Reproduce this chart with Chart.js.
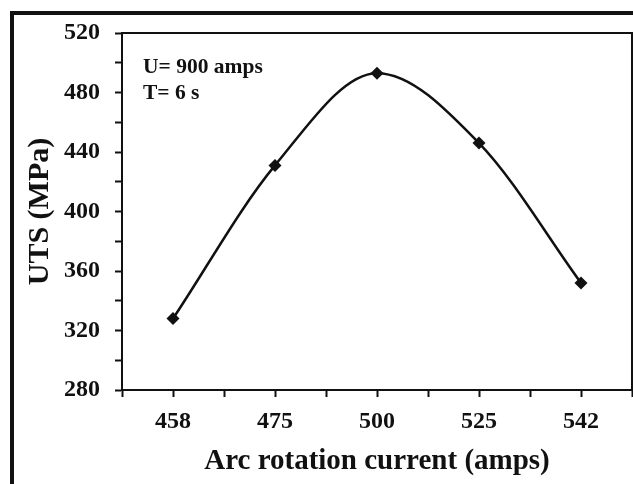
<!DOCTYPE html>
<html>
<head>
<meta charset="utf-8">
<script src="https://cdn.jsdelivr.net/npm/chart.js@4"></script>
<style>
  html, body { margin: 0; padding: 0; background: #fff; }
  #wrap { width: 633px; height: 484px; }
</style>
</head>
<body>
<div id="wrap"><canvas id="chart" width="633" height="484"></canvas></div>
<script>
// Data
const currents = ['458', '475', '500', '525', '542'];
const uts = [328, 431, 493, 446, 352];
const yTicks = [280, 320, 360, 400, 440, 480, 520];
const notes = ['U= 900 amps', 'T= 6 s'];

const serif = "'Liberation Serif', 'Times New Roman', serif";
const ink = '#111';

// outer frame (top + left edge), box round the plot area, and the note
const framePlugin = {
    id: 'frame',
    afterDraw(chart) {
        const { ctx, chartArea: a } = chart;
        ctx.save();
        ctx.strokeStyle = ink;
        ctx.lineWidth = 4;
        ctx.beginPath();
        ctx.moveTo(10, 13);
        ctx.lineTo(633, 13);
        ctx.moveTo(12, 11);
        ctx.lineTo(12, 484);
        ctx.stroke();

        ctx.lineWidth = 2;
        ctx.strokeRect(a.left, a.top, a.right - a.left, a.bottom - a.top);

        ctx.fillStyle = ink;
        ctx.font = `bold 21.5px ${serif}`;
        ctx.textBaseline = 'middle';
        ctx.fillText(notes[0], 143, 67);
        ctx.fillText(notes[1], 143, 93);
        ctx.restore();
    }
};

new Chart(document.getElementById('chart'), {
    type: 'line',
    data: {
        datasets: [{
            data: uts.map((v, i) => ({ x: i, y: v })),
            borderColor: ink,
            borderWidth: 2.5,
            backgroundColor: ink,
            pointStyle: 'rectRot',
            pointRadius: 6.5,
            pointBorderWidth: 0,
            cubicInterpolationMode: 'monotone',
            clip: false,
        }]
    },
    options: {
        responsive: false,
        animation: false,
        layout: { autoPadding: false, padding: { top: 33, right: 1, left: 0, bottom: 0 } },
        plugins: { legend: { display: false }, tooltip: { enabled: false } },
        scales: {
            x: {
                type: 'linear',
                min: -0.5,
                max: 4.5,
                afterFit: (s) => { s.height = 94; s.paddingLeft = 0; s.paddingRight = 0; },
                afterBuildTicks: (s) => {
                    s.ticks = [];
                    for (let v = -0.5; v <= 4.5; v += 0.5) s.ticks.push({ value: v });
                },
                grid: { drawOnChartArea: false, tickLength: 7, tickColor: ink, tickWidth: 2 },
                border: { color: ink, width: 2 },
                ticks: {
                    autoSkip: false,
                    maxRotation: 0,
                    padding: 10,
                    color: ink,
                    font: { family: serif, size: 24, weight: 'bold' },
                    callback: (v) => Number.isInteger(v) ? currents[v] : ''
                },
                title: {
                    display: true,
                    text: 'Arc rotation current (amps)',
                    color: ink,
                    font: { family: serif, size: 29, weight: 'bold' },
                    padding: { top: 0, bottom: 5 }
                }
            },
            y: {
                min: 280,
                max: 520,
                afterFit: (s) => { s.width = 122; s.paddingTop = 0; s.paddingBottom = 0; },
                afterBuildTicks: (s) => {
                    s.ticks = [];
                    for (let v = 280; v <= 520; v += 20) s.ticks.push({ value: v });
                },
                grid: { drawOnChartArea: false, tickLength: 7, tickColor: ink, tickWidth: 2 },
                border: { color: ink, width: 2 },
                ticks: {
                    autoSkip: false,
                    padding: 15,
                    color: ink,
                    font: { family: serif, size: 24, weight: 'bold' },
                    callback: (v) => yTicks.includes(v) ? String(v) : ''
                },
                title: {
                    display: true,
                    text: 'UTS (MPa)',
                    color: ink,
                    font: { family: serif, size: 30, weight: 'bold' },
                    padding: { top: 22, bottom: 0 }
                }
            }
        }
    },
    plugins: [framePlugin]
});
</script>
</body>
</html>
